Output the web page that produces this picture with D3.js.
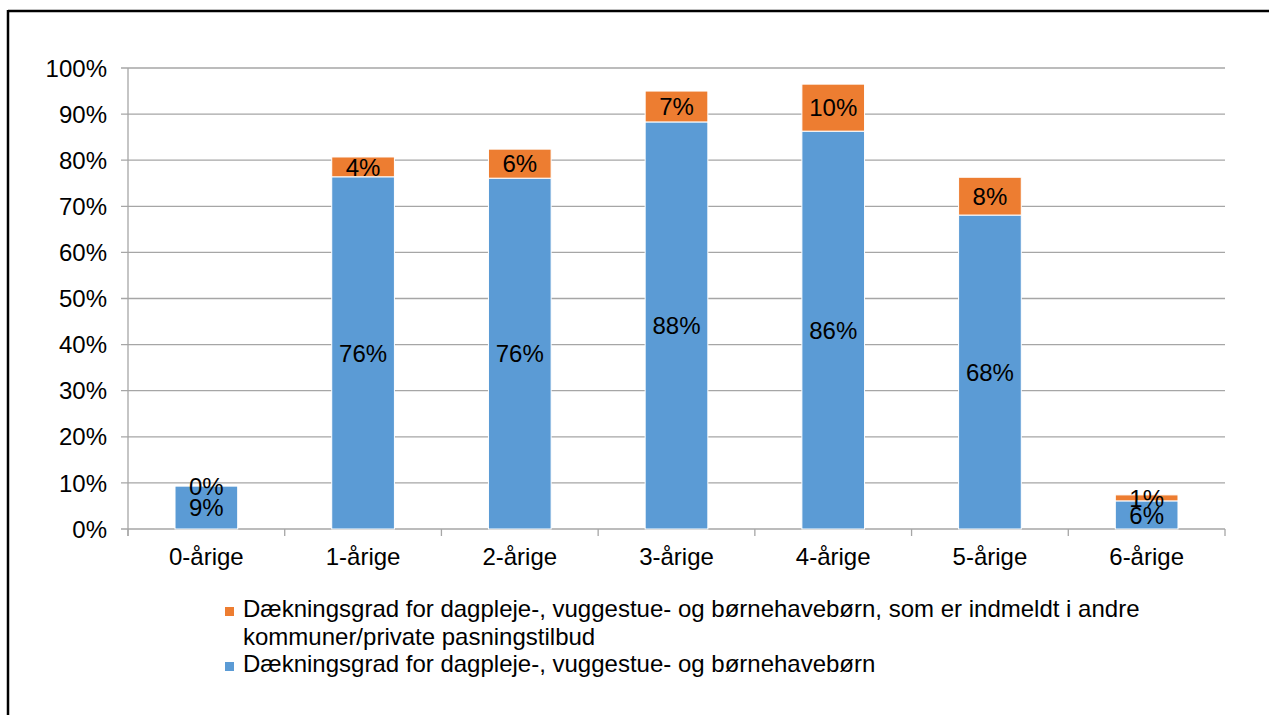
<!DOCTYPE html>
<html>
<head>
<meta charset="utf-8">
<script src="https://cdn.jsdelivr.net/npm/d3@7"></script>
<style>
  html, body { margin: 0; padding: 0; background: #fff; }
  svg { display: block; font-family: "Liberation Sans", Arial, sans-serif; }
</style>
</head>
<body>
<svg id="chart" width="1269" height="715"></svg>
<script>
const categories = ["0-årige", "1-årige", "2-årige", "3-årige", "4-årige", "5-årige", "6-årige"];
const blueValues = [9.3, 76.4, 76.1, 88.3, 86.3, 68.1, 6.1];
const orangeValues = [0.0, 4.3, 6.3, 6.7, 10.2, 8.2, 1.3];
const yTicks = [0, 10, 20, 30, 40, 50, 60, 70, 80, 90, 100];
const legendOrange = ["Dækningsgrad for dagpleje-, vuggestue- og børnehavebørn, som er indmeldt i andre", "kommuner/private pasningstilbud"];
const legendBlue = ["Dækningsgrad for dagpleje-, vuggestue- og børnehavebørn"];

const BLUE = "#5b9bd5", ORANGE = "#ed7d31", GRID = "#a6a6a6";
const FS = 24;
const svg = d3.select("#chart");

// outer frame (only top and left visible)
svg.append("line").attr("x1", 8).attr("x2", 1269).attr("y1", 11).attr("y2", 11).attr("stroke", "#000").attr("stroke-width", 2.5);
svg.append("line").attr("x1", 8).attr("x2", 8).attr("y1", 10).attr("y2", 715).attr("stroke", "#000").attr("stroke-width", 2.5);

const x = d3.scaleBand().domain(categories).range([128, 1225]).paddingInner(0.6).paddingOuter(0.3);
const y = d3.scaleLinear().domain([0, 100]).range([529, 68]);

// gridlines + y ticks
const g = svg.append("g");
yTicks.forEach(t => {
  g.append("line").attr("x1", 121).attr("x2", 1225).attr("y1", y(t)).attr("y2", y(t))
    .attr("stroke", GRID).attr("stroke-width", 1.3);
  g.append("text").attr("x", 107).attr("y", y(t)).attr("dy", "0.36em").attr("text-anchor", "end")
    .attr("font-size", FS).attr("fill", "#000").text(t + "%");
});
// y axis line
g.append("line").attr("x1", 128).attr("x2", 128).attr("y1", y(100)).attr("y2", y(0) + 7).attr("stroke", GRID).attr("stroke-width", 1.3);
// x axis category boundary ticks
const [r0] = x.range();
for (let i = 0; i <= categories.length; i++) {
  const bx = r0 + i * x.step();
  g.append("line").attr("x1", bx).attr("x2", bx).attr("y1", y(0)).attr("y2", y(0) + 7).attr("stroke", GRID).attr("stroke-width", 1.3);
}
// x labels
categories.forEach(c => {
  g.append("text").attr("x", x(c) + x.bandwidth() / 2).attr("y", 565).attr("text-anchor", "middle")
    .attr("font-size", FS).attr("fill", "#000").text(c);
});

// bars
const bars = svg.append("g");
categories.forEach((c, i) => {
  const b = blueValues[i], o = orangeValues[i];
  bars.append("rect").attr("x", x(c)).attr("width", x.bandwidth())
    .attr("y", y(b)).attr("height", y(0) - y(b)).attr("fill", BLUE).attr("stroke", "#fff").attr("stroke-width", 1);
  if (o > 0) {
    bars.append("rect").attr("x", x(c)).attr("width", x.bandwidth())
      .attr("y", y(b + o)).attr("height", y(b) - y(b + o)).attr("fill", ORANGE).attr("stroke", "#fff").attr("stroke-width", 1);
  }
});
// labels
categories.forEach((c, i) => {
  const b = blueValues[i], o = orangeValues[i];
  const cx = x(c) + x.bandwidth() / 2;
  bars.append("text").attr("x", cx).attr("y", (y(0) + y(b)) / 2).attr("dy", "0.36em").attr("text-anchor", "middle")
    .attr("font-size", FS).attr("fill", "#000").text(Math.round(b) + "%");
  bars.append("text").attr("x", cx).attr("y", (y(b) + y(b + o)) / 2).attr("dy", "0.36em").attr("text-anchor", "middle")
    .attr("font-size", FS).attr("fill", "#000").text(Math.round(o) + "%");
});

// legend
const lg = svg.append("g");
const lineH = 27.5;
lg.append("rect").attr("x", 225).attr("y", 607).attr("width", 9).attr("height", 9).attr("fill", ORANGE);
legendOrange.forEach((t, k) => {
  lg.append("text").attr("x", 243).attr("y", 617 + k * lineH).attr("font-size", FS).attr("fill", "#000").text(t);
});
lg.append("rect").attr("x", 225).attr("y", 607 + 2 * lineH).attr("width", 9).attr("height", 9).attr("fill", BLUE);
legendBlue.forEach((t, k) => {
  lg.append("text").attr("x", 243).attr("y", 617 + (2 + k) * lineH).attr("font-size", FS).attr("fill", "#000").text(t);
});
</script>
</body>
</html>
